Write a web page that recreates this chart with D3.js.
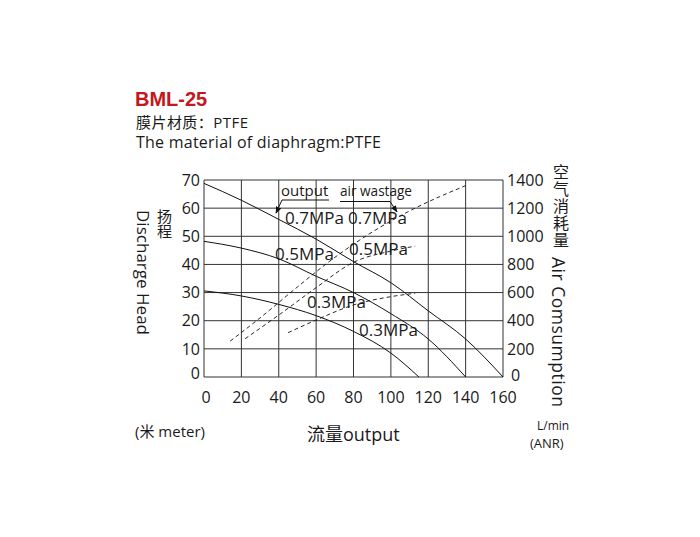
<!DOCTYPE html>
<html><head><meta charset="utf-8">
<script src="https://cdn.jsdelivr.net/npm/d3@7"></script>
<style>
html,body{margin:0;padding:0;background:#fff;}
text{font-family:"Open Sans","Noto Sans CJK SC",sans-serif;fill:#1a1a1a;}
</style></head>
<body>
<svg id="c" width="700" height="537"></svg>
<script>
// ---- data ----
const xTicks = [0, 20, 40, 60, 80, 100, 120, 140, 160];
const headTicks = [0, 10, 20, 30, 40, 50, 60, 70];
const airTicks = [0, 200, 400, 600, 800, 1000, 1200, 1400];
// output (head, m) vs flow
const out07 = [[0,68.8],[20,62.8],[40,56],[60,49],[80,41],[100,33.5],[120,23.5],[140,13.5],[160,0]];
const out05 = [[0,48.2],[20,45.8],[40,42],[60,35.8],[80,30],[100,22.5],[120,13.5],[140,0]];
const out03 = [[0,30.6],[20,28.8],[40,25.8],[60,21.8],[80,16.2],[100,8.5],[115,0]];
// air wastage (L/min) vs flow
const air07 = [[14,255],[30,420],[50,640],[70,850],[90,1030],[110,1180],[140,1360]];
const air05 = [[22,272],[40,440],[60,635],[80,815],[100,895],[113,930]];
const air03 = [[45,315],[60,405],[80,512],[100,571],[113,595]];

const svg = d3.select("#c");
const x = d3.scaleLinear().domain([0,160]).range([204,503]);
const yL = d3.scaleLinear().domain([0,70]).range([377,180]);
const yR = d3.scaleLinear().domain([0,1400]).range([377,180]);

// titles
svg.append("text").attr("x",135).attr("y",106).text("BML-25")
  .style("font-family","'Liberation Sans',Arial,sans-serif").style("font-weight","bold")
  .style("font-size","20px").style("fill","#c3171d");
svg.append("text").attr("x",136).attr("y",127.5).text("膜片材质：PTFE").style("font-size","15px")
  .attr("textLength",112);
svg.append("text").attr("x",136).attr("y",147.5).text("The material of diaphragm:PTFE")
  .style("font-size","16px").attr("textLength",245);

// grid
const g = svg.append("g");
g.selectAll("line.v").data(xTicks).join("line").attr("class","v")
  .attr("x1",d=>x(d)).attr("x2",d=>x(d)).attr("y1",yL(70)).attr("y2",yL(0))
  .attr("stroke","#333").attr("stroke-width",1);
g.selectAll("line.h").data(headTicks).join("line").attr("class","h")
  .attr("x1",x(0)).attr("x2",x(160)).attr("y1",d=>yL(d)).attr("y2",d=>yL(d))
  .attr("stroke","#333").attr("stroke-width",1);

// tick labels
svg.selectAll("text.lt").data(headTicks).join("text").attr("class","lt")
  .attr("x",200).attr("y",d=>yL(d) + (d===0?-4:0)).attr("dy","0.36em")
  .attr("text-anchor","end").style("font-size","16px").text(d=>d);
svg.selectAll("text.rt").data(airTicks).join("text").attr("class","rt")
  .attr("x",d=>d===0?511:507).attr("y",d=>yR(d) + (d===0?-2:0)).attr("dy","0.36em")
  .attr("text-anchor","start").style("font-size","16px").text(d=>d);
svg.selectAll("text.bt").data(xTicks).join("text").attr("class","bt")
  .attr("x",d=>x(d)+ (d===0?2:0)).attr("y",403)
  .attr("text-anchor","middle").style("font-size","16px").text(d=>d);

// curves
const lineL = d3.line().x(d=>x(d[0])).y(d=>yL(d[1])).curve(d3.curveMonotoneX);
const lineR = d3.line().x(d=>x(d[0])).y(d=>yR(d[1])).curve(d3.curveMonotoneX);
[out07,out05,out03].forEach(s=>{
  svg.append("path").attr("d",lineL(s)).attr("fill","none").attr("stroke","#111").attr("stroke-width",1);
});
[air07,air05,air03].forEach(s=>{
  svg.append("path").attr("d",lineR(s)).attr("fill","none").attr("stroke","#111")
    .attr("stroke-width",0.9).attr("stroke-dasharray","4,3");
});

// curve labels
const lbl = [
  ["0.7MPa",285,224],["0.7MPa",348,224],
  ["0.5MPa",275,260],["0.5MPa",349,255],
  ["0.3MPa",307,308],["0.3MPa",359,336]
];
svg.selectAll("text.cl").data(lbl).join("text").attr("class","cl")
  .attr("x",d=>d[1]).attr("y",d=>d[2]).style("font-size","17px").text(d=>d[0]);

// legend annotations
svg.append("text").attr("x",281).attr("y",196).style("font-size","15px").text("output");
svg.append("text").attr("x",340).attr("y",196).style("font-size","15px")
  .attr("textLength",72).attr("lengthAdjust","spacingAndGlyphs").text("air wastage");
const defs = svg.append("defs");
defs.append("marker").attr("id","ah").attr("viewBox","0 0 10 10").attr("refX",9).attr("refY",5)
  .attr("markerWidth",7).attr("markerHeight",7).attr("orient","auto")
  .append("path").attr("d","M0,1 L10,5 L0,9 Z").attr("fill","#111");
svg.append("path").attr("d","M329,200 L282,200 L276,213").attr("fill","none")
  .attr("stroke","#111").attr("stroke-width",1).attr("marker-end","url(#ah)");
svg.append("path").attr("d","M340,201.5 L390,201.5 L397,212").attr("fill","none")
  .attr("stroke","#111").attr("stroke-width",1).attr("marker-end","url(#ah)");

// axis titles (vertical CJK via writing-mode)
svg.append("text").attr("x",164).attr("y",209)
  .style("writing-mode","vertical-rl").style("font-size","15px").text("扬程");
svg.append("text").attr("transform","translate(137,210) rotate(90)")
  .style("font-size","17px").attr("textLength",125).text("Discharge Head");
svg.append("text").attr("x",560).attr("y",164)
  .style("writing-mode","vertical-rl").style("font-size","16px").style("letter-spacing","1px")
  .text("空气消耗量");
svg.append("text").attr("transform","translate(552,257) rotate(90)")
  .style("font-size","17.5px").attr("textLength",150).text("Air Comsumption");

svg.append("text").attr("x",135).attr("y",437).style("font-size","15px").text("(米 meter)");
svg.append("text").attr("x",307).attr("y",441).style("font-size","18px").text("流量output");
svg.append("text").attr("x",537).attr("y",430).style("font-size","12px").text("L/min");
svg.append("text").attr("x",530).attr("y",448).style("font-size","13px").text("(ANR)");
</script>
</body></html>
